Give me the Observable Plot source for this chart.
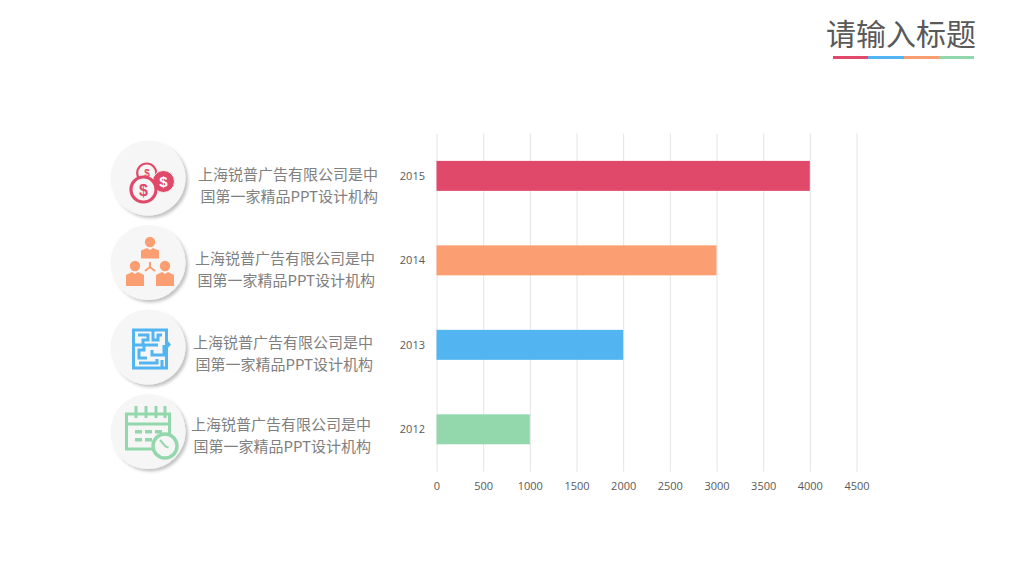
<!DOCTYPE html>
<html><head><meta charset="utf-8">
<script src="https://cdn.jsdelivr.net/npm/d3@7"></script>
<script src="https://cdn.jsdelivr.net/npm/@observablehq/plot@0.6"></script>
<style>
html,body{margin:0;padding:0;background:#fff;width:1024px;height:576px;overflow:hidden}
#stage{position:relative;width:1024px;height:576px;font-family:"Noto Sans CJK SC","Noto Sans",sans-serif}
#chart,#deco{position:absolute;left:0;top:0}
.t{position:absolute;white-space:nowrap;color:#808080;font-size:15px;line-height:21.5px;text-align:right;width:240px}
#title{position:absolute;left:776px;width:200px;top:10px;text-align:right;font-size:30px;line-height:44px;color:#595959}
.u{position:absolute;top:56px;height:3px}
</style></head><body>
<div id="stage"><div id="chart"></div>
<svg id="deco" width="1024" height="576" viewBox="0 0 1024 576">
<defs><filter id="s" x="-30%" y="-30%" width="160%" height="160%"><feDropShadow dx="2.5" dy="2.5" stdDeviation="1.8" flood-color="#000" flood-opacity=".24"/></filter></defs>
<g fill="#f6f6f6" filter="url(#s)"><circle cx="148" cy="178" r="37.5"/><circle cx="148" cy="262.5" r="37.5"/><circle cx="148" cy="347" r="37.5"/><circle cx="148" cy="431.5" r="37.5"/></g>
<g fill="none" stroke="#e0496a" stroke-width="2.4">
<circle cx="146.700" cy="173" r="9.500" stroke-width="2.200"/>
<circle cx="163.500" cy="181.500" r="11" fill="#e0496a" stroke="#f6f6f6" stroke-width="1"/>
<circle cx="143.500" cy="189.500" r="12.500" fill="#f6f6f6" stroke-width="3.200"/></g>
<g font-family="'Liberation Sans'" font-weight="700" text-anchor="middle"><text x="143.500" y="195.500" font-size="16" fill="#e0496a">$</text><text x="163.500" y="187" font-size="15" fill="#fff">$</text><text x="147" y="176.500" font-size="10" fill="#e0496a">$</text></g>
<g fill="#fb9f73"><circle cx="150" cy="242" r="5.200"/><path d="M141 258.500v-8l6-2.500 3 2 3-2 6 2.500v8z"/><circle cx="135" cy="266" r="5.200"/><path d="M126 286v-11l6-3 3 2 3-2 6 3v11z"/><circle cx="165" cy="266" r="5.200"/><path d="M156 286v-11l6-3 3 2 3-2 6 3v11z"/><path d="M150 267v-5M150 267l-5 4M150 267l5 4" stroke="#fb9f73" stroke-width="2"/></g>
<g fill="none" stroke="#52b4f0" stroke-width="3"><rect x="133.500" y="330" width="33" height="38"/><path d="M138 335h10v5h-5v5h-9M153 330v10h5v-5h4M158 345h-14v5h-5v8h8M164 345v10h-12v-5M139 363h18v-4M162 360v8"/></g>
<path d="M166 339l5 5.500-5 5.500z" fill="#52b4f0"/>
<g fill="none" stroke="#93d7ac" stroke-width="3"><path d="M155 449h-28.500v-35h43v20"/><path d="M126.500 424h43M136 406v12M146 406v12M156 406v12M165 406v12" /></g>
<g fill="#93d7ac"><rect x="135" y="430" width="7" height="3.500"/><rect x="145" y="430" width="7" height="3.500"/><rect x="155" y="430" width="7" height="3.500"/><rect x="135" y="438" width="7" height="3.500"/><rect x="145" y="438" width="7" height="3.500"/></g>
<circle cx="165" cy="446" r="12" fill="#f6f6f6" stroke="#93d7ac" stroke-width="3.400"/><path d="M160 440l5.500 6.500 3 1" fill="none" stroke="#93d7ac" stroke-width="2"/>
</svg>
<div id="title">请输入标题</div>
<div class="u" style="left:833px;width:35px;background:#e0496a"></div><div class="u" style="left:868px;width:36px;background:#52b4f0"></div><div class="u" style="left:904px;width:35px;background:#fb9f73"></div><div class="u" style="left:939px;width:35px;background:#93d7ac"></div>
<div id="texts"></div></div>
<script>
const years = ["2015","2014","2013","2012"];
const values = [4000,3000,2000,1000];
const colors = ["#e0496a","#fb9f73","#52b4f0","#93d7ac"];
const xTicks = [0,500,1000,1500,2000,2500,3000,3500,4000,4500];
const line1 = "上海锐普广告有限公司是中";
const line2 = "国第一家精品PPT设计机构";
const rows = years.map((y,i)=>({year:y,value:values[i],color:colors[i]}));
const fig = Plot.plot({
  width:1024,height:576,
  marginLeft:436.5,marginRight:167.5,marginTop:133.6,marginBottom:104.4,
  style:{background:"transparent",fontFamily:"'Open Sans',sans-serif",fontSize:"11px",color:"#595959"},
  x:{domain:[0,4500],label:null},
  y:{domain:years,label:null,paddingInner:0.645,paddingOuter:0.323,round:false},
  marks:[
    Plot.gridX(xTicks,{stroke:"#e4e4e4",strokeOpacity:1,strokeWidth:1}),
    Plot.barX(rows,{x:"value",y:"year",fill:"color"}),
    Plot.axisX(xTicks,{tickSize:0,tickPadding:10.500,tickFormat:d=>String(d),fontSize:11,fill:"#595959",label:null}),
    Plot.axisY({tickSize:0,tickPadding:12,fontSize:11,fill:"#595959",label:null})
  ]
});
document.getElementById("chart").append(fig);
const textPos=[[378,163],[375,247],[373,331],[371,413]];
const box=document.getElementById("texts");
textPos.forEach(([r,t])=>{const d=document.createElement("div");d.className="t";d.style.left=(r-240)+"px";d.style.top=t+"px";d.innerHTML=line1+"<br>"+line2;box.append(d);});
</script></body></html>
